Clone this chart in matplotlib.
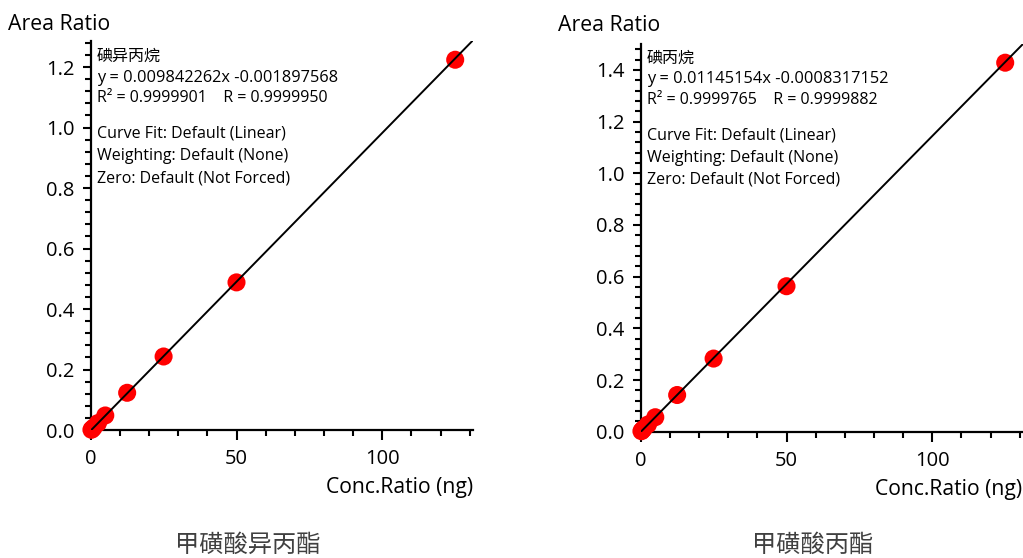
import matplotlib
matplotlib.use("Agg")
import matplotlib.pyplot as plt
from matplotlib.ticker import MultipleLocator, FixedLocator
import numpy as np

plt.rcParams['font.family'] = ['Open Sans', 'Noto Sans CJK SC', 'DejaVu Sans']

W, H = 1023, 558

# ---- data ----
conc = [0.25, 0.5, 1, 2.5, 5, 12.5, 25, 50, 125]
ratio_left = [0.0008, 0.003, 0.008, 0.023, 0.048, 0.123, 0.243, 0.488, 1.224]
ratio_right = [0.002, 0.005, 0.011, 0.028, 0.056, 0.142, 0.283, 0.563, 1.428]

slope_left, intercept_left = 0.009842262, -0.001897568
slope_right, intercept_right = 0.01145154, -0.0008317152

compound_left = "碘异丙烷"
compound_right = "碘丙烷"
title_left = "甲磺酸异丙酯"
title_right = "甲磺酸丙酯"
eq_left = "y = 0.009842262x -0.001897568"
eq_right = "y = 0.01145154x -0.0008317152"
r_left = "R² = 0.9999901    R = 0.9999950"
r_right = "R² = 0.9999765    R = 0.9999882"
info_lines = ["Curve Fit: Default (Linear)", "Weighting: Default (None)", "Zero: Default (Not Forced)"]

x_major = [0, 50, 100]
x_minor = list(range(0, 131, 10))

fig = plt.figure(figsize=(W / 100, H / 100), dpi=100)


def fx(x):
    return x / W


def fy(y):
    return 1 - y / H


def make_axes(left, top_px, bottom_px, right_px, xmax, ymax, conc, ratio, slope, intercept):
    ax = fig.add_axes([fx(left), fy(bottom_px), (right_px - left) / W, (bottom_px - top_px) / H])
    ax.set_xlim(0, xmax)
    ax.set_ylim(0, ymax)
    for s in ['top', 'right']:
        ax.spines[s].set_visible(False)
    for s in ['left', 'bottom']:
        ax.spines[s].set_linewidth(1.6)
    ax.scatter(conc, ratio, s=13 ** 2, color='#ff0000', edgecolors='none', zorder=3, clip_on=False)
    xl = np.array([0, xmax * 1.05])
    ax.plot(xl, slope * xl + intercept, color='black', lw=1.4, zorder=4)
    ax.xaxis.set_major_locator(FixedLocator(x_major))
    ax.xaxis.set_minor_locator(FixedLocator(x_minor))
    ax.yaxis.set_major_locator(MultipleLocator(0.2))
    ax.yaxis.set_minor_locator(MultipleLocator(0.04))
    ax.yaxis.set_major_formatter(plt.FuncFormatter(lambda v, p: f"{v:.1f}"))
    ax.tick_params(axis='x', which='major', length=7, width=1.5, pad=7, labelsize=14.5, direction='out')
    ax.tick_params(axis='x', which='minor', length=4.5, width=1.5, direction='out')
    ax.tick_params(axis='y', which='major', length=5.5, width=1.5, pad=6, labelsize=14.5, direction='out')
    ax.tick_params(axis='y', which='minor', length=4.5, width=1.5, direction='out')
    return ax


axL = make_axes(90.7, 41.3, 430, 90.7 + 131 * 2.916, 131, 1.285, conc, ratio_left, slope_left, intercept_left)
axR = make_axes(640.7, 44.1, 431.7, 640.7 + 131.1 * 2.916, 131.1, 1.5, conc, ratio_right, slope_right, intercept_right)


def panel_text(x0, dy, compound, eq, rline, title, title_x, area_x, area_y, conc_y, conc_right):
    fig.text(fx(x0), fy(61 + dy), compound, fontsize=11.5, ha='left', va='baseline')
    fig.text(fx(x0), fy(82 + dy), eq, fontsize=11.8, ha='left', va='baseline')
    fig.text(fx(x0), fy(102 + dy), rline, fontsize=11.5, ha='left', va='baseline')
    for i, line in enumerate(info_lines):
        fig.text(fx(x0), fy(138 + dy + 22 * i), line, fontsize=11.5, ha='left', va='baseline')
    fig.text(fx(area_x), fy(area_y), "Area Ratio", fontsize=15.3, ha='left', va='baseline')
    fig.text(fx(conc_right), fy(conc_y), "Conc.Ratio (ng)", fontsize=15.2, ha='right', va='baseline')
    fig.text(fx(title_x), fy(533.5), title, fontsize=17.5, ha='center', va='top', color='#404040')


panel_text(97, 0, compound_left, eq_left, r_left, title_left, 248, 8, 30, 493, 473)
panel_text(646.7, 1.5, compound_right, eq_right, r_right, title_right, 813, 558, 31, 495, 1022)

fig.savefig("out.png", dpi=100)
